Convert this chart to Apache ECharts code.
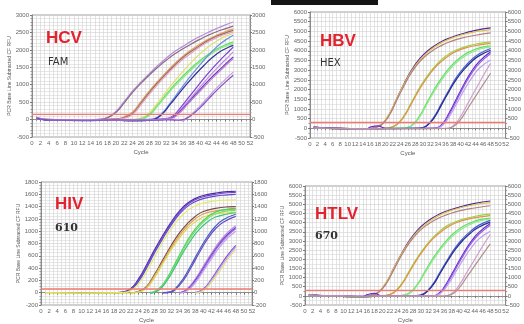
<!DOCTYPE html>
<html>
<head>
<meta charset="utf-8">
<script src="https://cdn.jsdelivr.net/npm/echarts@6/dist/echarts.min.js"></script>
<style>
html,body{margin:0;padding:0;background:#fff}
#main{width:524px;height:324px}
</style>
</head>
<body>
<div id="main"></div>
<script>
// 数据
var cycleTicks = [0, 52, 2];
var panelNames = ['HCV', 'HBV', 'HIV', 'HTLV'];
var dyeNames = ['FAM', 'HEX', '610', '670'];
var yRanges = [[-500, 3000, 500], [-500, 6000, 500], [-200, 1800, 200], [-500, 6000, 500]];
var thresholds = [150, 300, 60, 300];

var hcvColors = ['#b48fd8', '#8a6a86', '#e8a060', '#9b6b5b', '#e0a0c0', '#e0e070', '#60e060', '#88e888',
	'#6a8fe0', '#30309a', '#8040d0', '#b890e8', '#7030c0', '#c080d0', '#c8a0e0', '#8050c0'];
var hcvCurves = [
	[[1,60],[3,0],[8,-20],[12,-10],[16,10],[18,60],[20,230],[22,520],[24,820],[26,1080],[28,1320],[30,1550],[32,1760],[34,1950],[36,2100],[38,2250],[40,2380],[42,2500],[44,2610],[46,2710],[48,2800]],
	[[1,50],[3,10],[8,-10],[12,-20],[16,0],[18,50],[20,200],[22,480],[24,780],[26,1040],[28,1280],[30,1500],[32,1700],[34,1880],[36,2030],[38,2170],[40,2300],[42,2420],[44,2520],[46,2600],[48,2680]],
	[[1,40],[4,-10],[10,-20],[16,0],[21,30],[22,80],[24,220],[26,520],[28,820],[30,1100],[32,1360],[34,1600],[36,1820],[38,2000],[40,2160],[42,2300],[44,2420],[46,2520],[48,2600]],
	[[1,70],[3,0],[9,-15],[15,-10],[20,20],[22,60],[24,180],[26,470],[28,780],[30,1060],[32,1320],[34,1560],[36,1780],[38,1960],[40,2120],[42,2270],[44,2390],[46,2480],[48,2560]],
	[[1,30],[4,0],[10,-5],[16,-15],[20,10],[22,40],[24,150],[26,430],[28,730],[30,1010],[32,1270],[34,1510],[36,1730],[38,1910],[40,2080],[42,2230],[44,2350],[46,2440],[48,2515]],
	[[1,50],[4,-5],[12,-10],[20,0],[24,10],[26,40],[28,200],[30,480],[32,800],[34,1100],[36,1380],[38,1640],[40,1880],[42,2080],[44,2250],[46,2380],[48,2470]],
	[[1,40],[5,-10],[12,-20],[20,-10],[24,0],[26,20],[28,150],[30,420],[32,720],[34,1000],[36,1250],[38,1480],[40,1690],[42,1870],[44,2020],[46,2140],[48,2230]],
	[[1,60],[4,0],[12,-5],[20,-15],[24,-5],[26,10],[28,120],[30,390],[32,680],[34,950],[36,1200],[38,1430],[40,1640],[42,1820],[44,1980],[46,2100],[48,2180]],
	[[1,50],[4,-10],[12,-20],[20,-10],[26,-5],[29,20],[31,180],[33,480],[35,800],[37,1120],[39,1420],[41,1700],[43,1960],[45,2180],[47,2350],[48,2420]],
	[[1,40],[4,-20],[12,-30],[20,-20],[24,-40],[27,-30],[29,0],[31,150],[33,440],[35,740],[37,1030],[39,1300],[41,1550],[43,1780],[45,1960],[47,2080],[48,2130]],
	[[1,60],[4,-10],[12,-10],[20,-10],[28,0],[31,20],[33,60],[35,280],[37,580],[39,880],[41,1180],[43,1460],[45,1720],[47,1960],[48,2080]],
	[[1,50],[4,0],[12,-15],[20,-5],[28,-10],[31,10],[33,40],[35,230],[37,500],[39,780],[41,1060],[43,1330],[45,1580],[47,1820],[48,1940]],
	[[1,30],[4,-10],[12,-20],[20,-15],[28,-20],[31,0],[33,30],[35,200],[37,450],[39,720],[41,980],[43,1230],[45,1460],[47,1690],[48,1800]],
	[[1,40],[4,-5],[12,-10],[20,-10],[28,0],[31,0],[33,20],[35,170],[37,420],[39,680],[41,930],[43,1180],[45,1410],[47,1640],[48,1750]],
	[[1,60],[4,0],[12,-10],[20,-5],[28,-10],[33,10],[35,0],[36,-40],[37,60],[38,150],[40,380],[42,640],[44,900],[46,1140],[48,1360]],
	[[1,50],[4,-10],[12,-20],[20,-10],[28,-15],[33,-10],[35,-20],[37,40],[38,120],[40,330],[42,580],[44,830],[46,1060],[48,1270]]
];

var hbvColors = ['#4b2a9a', '#e0c050', '#b08080', '#a0d040', '#e09050', '#60e060', '#90e890',
	'#4060d0', '#2a2a90', '#6a2ad0', '#9060e0', '#c0a0f0', '#d0a0d0', '#b09090'];
var hbvCurves = [
	[[1,60],[4,20],[8,0],[12,-60],[15,-50],[17,30],[19,200],[21,700],[23,1500],[25,2300],[27,3000],[29,3550],[31,3950],[33,4250],[35,4480],[37,4650],[40,4850],[44,5050],[48,5180]],
	[[1,40],[4,10],[8,-10],[12,-50],[15,-40],[17,40],[19,220],[21,720],[23,1500],[25,2280],[27,2950],[29,3480],[31,3880],[33,4180],[35,4420],[37,4600],[40,4800],[44,4980],[48,5090]],
	[[1,50],[4,0],[8,20],[12,-40],[15,-60],[17,20],[19,180],[21,650],[23,1420],[25,2200],[27,2880],[29,3400],[31,3780],[33,4060],[35,4280],[37,4450],[40,4640],[44,4800],[48,4920]],
	[[1,30],[5,0],[10,-20],[15,-40],[19,0],[21,30],[23,200],[25,650],[27,1350],[29,2050],[31,2650],[33,3150],[35,3550],[37,3850],[39,4050],[42,4250],[45,4380],[48,4460]],
	[[1,50],[5,10],[10,-10],[15,-50],[19,-10],[21,20],[23,170],[25,600],[27,1280],[29,1980],[31,2580],[33,3080],[35,3460],[37,3760],[39,3980],[42,4180],[45,4300],[48,4380]],
	[[1,40],[5,0],[10,-30],[15,-40],[20,-10],[25,20],[27,150],[29,600],[31,1300],[33,2000],[35,2600],[37,3100],[39,3500],[41,3800],[43,4000],[45,4150],[48,4250]],
	[[1,30],[5,-10],[10,-20],[15,-50],[20,-20],[25,10],[27,120],[29,540],[31,1220],[33,1900],[35,2500],[37,3000],[39,3400],[41,3700],[43,3920],[45,4080],[48,4200]],
	[[1,50],[5,0],[10,-20],[15,-30],[20,-10],[25,0],[29,10],[31,150],[33,600],[35,1300],[37,2000],[39,2650],[41,3150],[43,3550],[45,3850],[48,4120]],
	[[1,40],[5,-10],[10,-30],[15,-40],[20,-20],[25,-10],[29,0],[31,120],[33,540],[35,1220],[37,1920],[39,2550],[41,3050],[43,3450],[45,3750],[48,4030]],
	[[1,60],[5,10],[10,-20],[15,-30],[16,60],[18,130],[20,0],[26,-10],[33,10],[35,200],[37,800],[39,1550],[41,2300],[43,2950],[45,3450],[48,3950]],
	[[1,50],[5,0],[10,-10],[15,-40],[20,-10],[26,-20],[33,0],[35,160],[37,720],[39,1450],[41,2200],[43,2850],[45,3350],[48,3860]],
	[[1,40],[5,-10],[10,-20],[15,-50],[20,-20],[26,-10],[33,0],[35,120],[37,600],[39,1280],[41,1980],[43,2600],[45,3100],[48,3520]],
	[[1,30],[5,0],[10,-20],[15,-30],[20,-10],[28,-10],[36,0],[38,120],[40,600],[42,1300],[44,2000],[46,2700],[48,3350]],
	[[1,50],[5,-10],[10,-30],[15,-40],[20,-20],[28,-20],[36,-10],[38,80],[40,450],[42,1050],[44,1650],[46,2250],[48,2840]]
];

var hivColors = ['#4a2a9a', '#7a40d0', '#5a50c8', '#e8e870', '#7a4a4a', '#e0a050', '#d8d850', '#50d050', '#70e070', '#40c080',
	'#4060c0', '#6a4ac0', '#b890e0', '#7a3ad0', '#9a6ae0', '#c0a0f0', '#8050d0', '#c0a0e8', '#e0e080'];
var hivCurves = [
	[[18,0],[20,10],[22,60],[24,220],[26,450],[28,700],[30,930],[32,1140],[34,1320],[36,1450],[38,1530],[40,1580],[43,1620],[46,1645],[48,1650]],
	[[18,0],[20,5],[22,50],[24,200],[26,430],[28,680],[30,910],[32,1120],[34,1300],[36,1430],[38,1510],[40,1560],[43,1600],[46,1625],[48,1630]],
	[[20,0],[22,40],[24,180],[26,400],[28,650],[30,880],[32,1090],[34,1270],[36,1400],[38,1480],[40,1530],[43,1570],[46,1590],[48,1600]],
	[[1,0],[10,-5],[20,0],[22,30],[24,140],[26,340],[28,580],[30,820],[32,1030],[34,1200],[36,1330],[38,1410],[40,1460],[44,1500],[48,1510]],
	[[22,0],[24,20],[26,100],[28,300],[30,530],[32,760],[34,960],[36,1120],[38,1240],[40,1320],[43,1370],[46,1395],[48,1400]],
	[[22,0],[24,15],[26,90],[28,280],[30,500],[32,720],[34,920],[36,1080],[38,1200],[40,1280],[43,1330],[46,1350],[48,1360]],
	[[1,-5],[10,-10],[22,-5],[24,10],[26,70],[28,250],[30,470],[32,690],[34,880],[36,1040],[38,1150],[40,1230],[43,1280],[46,1300],[48,1310]],
	[[27,0],[29,60],[31,230],[33,470],[35,720],[37,940],[39,1110],[41,1230],[43,1310],[46,1360],[48,1370]],
	[[27,-5],[29,50],[31,210],[33,440],[35,690],[37,910],[39,1080],[41,1200],[43,1280],[46,1330],[48,1340]],
	[[27,-10],[29,40],[31,190],[33,410],[35,650],[37,860],[39,1030],[41,1150],[43,1230],[46,1280],[48,1300]],
	[[30,0],[32,20],[33,60],[35,220],[37,450],[39,690],[41,910],[43,1080],[45,1190],[48,1275]],
	[[30,-5],[32,10],[33,45],[35,190],[37,410],[39,650],[41,870],[43,1040],[45,1150],[48,1240]],
	[[34,0],[35,20],[36,60],[38,220],[40,430],[42,640],[44,830],[46,980],[48,1090]],
	[[34,-5],[36,50],[38,200],[40,400],[42,610],[44,800],[46,950],[48,1060]],
	[[34,-5],[36,40],[38,180],[40,380],[42,590],[44,780],[46,930],[48,1040]],
	[[34,-10],[36,30],[38,160],[40,350],[42,550],[44,740],[46,890],[48,1000]],
	[[38,0],[40,60],[42,220],[44,420],[46,610],[48,770]],
	[[38,-5],[40,50],[42,200],[44,390],[46,580],[48,740]],
	[[38,-10],[40,30],[42,170],[44,350],[46,540],[48,700]]
];

// HTLV 与 HBV 曲线基本一致
var htlvColors = hbvColors;
var htlvCurves = hbvCurves;

var allCurves = [hcvCurves, hbvCurves, hivCurves, htlvCurves];
var allColors = [hcvColors, hbvColors, hivColors, htlvColors];

// 布局
var boxes = [
	{left: 32, top: 15, width: 218, height: 122},
	{left: 310, top: 12, width: 203, height: 126},
	{left: 41, top: 182, width: 211, height: 127},
	{left: 305, top: 186, width: 204, height: 122}
];
var minorY = [5, 2, 4, 2];
var labelPos = [[46, 39, 48, 63], [320, 42, 320, 64], [55, 205, 55, 229], [315, 215, 315, 237]];

var grid = [], xAxis = [], yAxis = [], series = [], graphic = [];
var tickFont = {fontSize: 6, color: '#666', fontFamily: 'Arial, Liberation Sans',
	formatter: function(v) { return String(v); }};

boxes.forEach(function(b, i) {
	grid.push({left: b.left, top: b.top, width: b.width, height: b.height,
		show: true, borderColor: '#888', borderWidth: 0.8, backgroundColor: '#fff'});
	xAxis.push({
		gridIndex: i, type: 'value', min: cycleTicks[0], max: cycleTicks[1], interval: cycleTicks[2],
		name: 'Cycle', nameLocation: 'middle', nameGap: 12,
		nameTextStyle: {fontSize: 6, color: '#555'},
		axisLine: {lineStyle: {color: '#777', width: 0.8}},
		axisTick: {show: true, length: 2, lineStyle: {color: '#777'}},
		minorTick: {show: true, splitNumber: 2, length: 1.5, lineStyle: {color: '#999'}},
		axisLabel: Object.assign({margin: 3}, tickFont),
		splitLine: {show: true, lineStyle: {color: '#d0d0d0', width: 0.6}},
		minorSplitLine: {show: true, lineStyle: {color: '#d0d0d0', width: 0.6}}
	});
	var r = yRanges[i];
	yAxis.push({
		gridIndex: i, type: 'value', min: r[0], max: r[1], interval: r[2], position: 'left',
		name: 'PCR Base Line Subtracted CF RFU', nameLocation: 'middle', nameGap: 12,
		nameTextStyle: {fontSize: 5, color: '#555'},
		axisLine: {show: true, lineStyle: {color: '#777', width: 0.8}},
		axisTick: {show: true, length: 2, lineStyle: {color: '#777'}},
		minorTick: {show: true, splitNumber: minorY[i], length: 1.5, lineStyle: {color: '#999'}},
		axisLabel: Object.assign({margin: 3}, tickFont),
		splitLine: {show: true, lineStyle: {color: '#d0d0d0', width: 0.6}},
		minorSplitLine: {show: true, lineStyle: {color: '#d8d8d8', width: 0.6}}
	});
	yAxis.push({
		gridIndex: i, type: 'value', min: r[0], max: r[1], interval: r[2], position: 'right',
		axisLine: {show: true, lineStyle: {color: '#777', width: 0.8}},
		axisTick: {show: true, length: 2, lineStyle: {color: '#777'}},
		minorTick: {show: true, splitNumber: minorY[i], length: 1.5, lineStyle: {color: '#999'}},
		axisLabel: Object.assign({margin: 2}, tickFont),
		splitLine: {show: false}
	});
	// 阈值线
	series.push({
		type: 'line', xAxisIndex: i, yAxisIndex: i * 2, symbol: 'none', silent: true,
		data: [[cycleTicks[0], thresholds[i]], [cycleTicks[1], thresholds[i]]],
		lineStyle: {color: '#f07a70', width: 1.3}, z: 3
	});
	allCurves[i].forEach(function(pts, k) {
		series.push({
			type: 'line', xAxisIndex: i, yAxisIndex: i * 2, symbol: 'none', silent: true,
			smooth: 0.5, data: pts,
			lineStyle: {color: allColors[i][k], width: 1.2}, z: 2
		});
	});
	var p = labelPos[i];
	graphic.push({type: 'text', left: p[0], top: p[1] - 9, z: 10,
		style: {text: panelNames[i], fill: '#e2232e', font: 'bold 17px "Liberation Sans", Arial'}});
	var serif = i >= 2;
	graphic.push({type: 'text', left: p[2], top: p[3] - 6, z: 10,
		style: {text: dyeNames[i], fill: '#333',
			font: serif ? 'bold 11px "DejaVu Serif", serif' : '10px "DejaVu Sans", sans-serif'}});
});

graphic.push({type: 'rect', shape: {x: 271, y: 0, width: 107, height: 5}, style: {fill: '#151515'}});

var myChart = echarts.init(document.getElementById('main'), null, {renderer: 'canvas'});
myChart.setOption({
	backgroundColor: '#fff',
	animation: false,
	grid: grid,
	xAxis: xAxis,
	yAxis: yAxis,
	series: series,
	graphic: graphic
});
</script>
</body>
</html>
